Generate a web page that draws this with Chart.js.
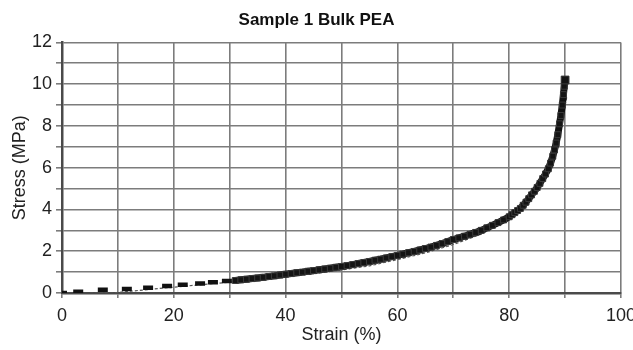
<!DOCTYPE html>
<html>
<head>
<meta charset="utf-8">
<style>html,body{margin:0;padding:0;background:#fff;}canvas{display:block;}</style>
<script src="https://cdn.jsdelivr.net/npm/chart.js@4/dist/chart.umd.min.js"></script>
</head>
<body>
<canvas id="c" width="633" height="350"></canvas>
<script>
const chartTitle = "Sample 1 Bulk PEA";
const xAxisTitle = "Strain (%)";
const yAxisTitle = "Stress (MPa)";
const xTickLabels = [0, 20, 40, 60, 80, 100];
const yTickLabels = [0, 2, 4, 6, 8, 10, 12];

// early, sparse markers (rendered as short dashes)
const strainEarly = [0.0, 2.9, 7.3, 11.6, 15.4, 18.8, 21.6, 24.7, 27.0, 29.5];
const stressEarly = [0.0, 0.06, 0.15, 0.19, 0.25, 0.34, 0.40, 0.45, 0.51, 0.57];

// dense markers forming the thick curve
const strainMain = [31,32,33,34,35,36,37,38,39,40,41,42,43,44,45,46,47,48,49,50,
  51,52,53,54,55,56,57,58,59,60,61,62,63,64,65,66,67,68,69,70,
  71,72,73,74,75,76,77,78,79,80,80.5,81,81.5,82,82.5,83,83.5,84,84.5,85,
  85.5,86,86.5,87,87.4,87.8,88.1,88.4,88.7,89.0,89.25,89.5,89.7,89.85,90.0];
const stressMain = [0.60,0.63,0.66,0.69,0.72,0.75,0.79,0.82,0.86,0.90,0.93,0.97,1.00,1.04,1.07,1.11,1.15,1.19,1.23,1.27,
  1.31,1.36,1.41,1.46,1.51,1.57,1.62,1.68,1.74,1.80,1.86,1.93,1.99,2.06,2.13,2.20,2.28,2.37,2.46,2.56,
  2.64,2.72,2.81,2.90,3.00,3.12,3.24,3.37,3.50,3.65,3.75,3.85,3.95,4.05,4.20,4.35,4.52,4.70,4.87,5.05,
  5.25,5.48,5.70,5.95,6.22,6.55,6.85,7.18,7.58,8.10,8.50,9.00,9.50,9.90,10.20];

// fainter overlapping sample trace
const strainOther = [5, 9, 12, 16, 20, 25, 30, 35, 40, 45, 50, 55, 60, 65, 70, 75, 80, 83, 85, 87, 88.5, 89.5, 90.3];
const stressOther = [0, 0, 0.08, 0.18, 0.28, 0.40, 0.52, 0.64, 0.78, 0.93, 1.10, 1.30, 1.60, 1.92, 2.32, 2.82, 3.50, 4.20, 4.90, 5.90, 7.00, 8.20, 9.40];

const toPts = (xs, ys) => xs.map((x, i) => ({x: x, y: ys[i]}));
const FONT = "'Liberation Sans', Arial, Helvetica, sans-serif";
const GRID = '#7c7c7c';
const AXIS = '#4a4a4a';

new Chart(document.getElementById('c'), {
  type: 'scatter',
  data: {
    datasets: [
      {
        data: toPts(strainMain, stressMain),
        showLine: true,
        borderColor: '#111',
        borderWidth: 7,
        borderJoinStyle: 'round',
        pointStyle: 'rect',
        pointRadius: ctx => ctx.dataIndex === strainMain.length - 1 ? 5.5 : 4.2,
        pointBackgroundColor: '#141414',
        pointBorderColor: '#3a3a3a',
        pointBorderWidth: 1,
        tension: 0
      },
      {
        data: toPts(strainEarly, stressEarly),
        showLine: false,
        pointStyle: 'line',
        pointRadius: 5,
        pointBorderWidth: 4.5,
        pointBorderColor: '#111',
        pointBackgroundColor: '#111'
      },
      {
        data: toPts(strainOther, stressOther),
        showLine: true,
        borderColor: '#555',
        borderWidth: 1.2,
        borderDash: [3, 2],
        pointRadius: 0
      }
    ]
  },
  options: {
    responsive: false,
    animation: false,
    layout: {padding: {left: 0, right: 0, top: 0, bottom: 0}},
    plugins: {
      legend: {display: false},
      tooltip: {enabled: false},
      title: {
        display: true,
        text: chartTitle,
        color: '#111',
        font: {family: FONT, size: 17, weight: 'bold'},
        padding: {top: 10, bottom: 12}
      }
    },
    scales: {
      x: {
        type: 'linear',
        min: 0, max: 100,
        afterFit: s => { s.height = 57; s.paddingRight = 12; s.paddingLeft = 0; },
        ticks: {
          stepSize: 10,
          autoSkip: false,
          maxRotation: 0,
          padding: 7,
          color: '#222',
          font: {family: FONT, size: 18},
          callback: v => xTickLabels.includes(v) ? String(v) : ''
        },
        grid: {color: GRID, lineWidth: 1.6, drawTicks: true, tickLength: 5, tickColor: GRID},
        border: {color: AXIS, width: 2.5},
        title: {display: true, text: xAxisTitle, color: '#222', font: {family: FONT, size: 18}, padding: {top: 0, bottom: 4}}
      },
      y: {
        type: 'linear',
        min: 0, max: 12,
        afterFit: s => { s.width = 62; },
        ticks: {
          stepSize: 1,
          autoSkip: false,
          padding: 4,
          color: '#222',
          font: {family: FONT, size: 18},
          callback: v => yTickLabels.includes(v) ? String(v) : ''
        },
        grid: {color: GRID, lineWidth: 1.6, drawTicks: true, tickLength: 6, tickColor: GRID},
        border: {color: AXIS, width: 2.5},
        title: {display: true, text: yAxisTitle, color: '#222', font: {family: FONT, size: 18}, padding: {top: 9, bottom: 0}}
      }
    }
  }
});
</script>
</body>
</html>
